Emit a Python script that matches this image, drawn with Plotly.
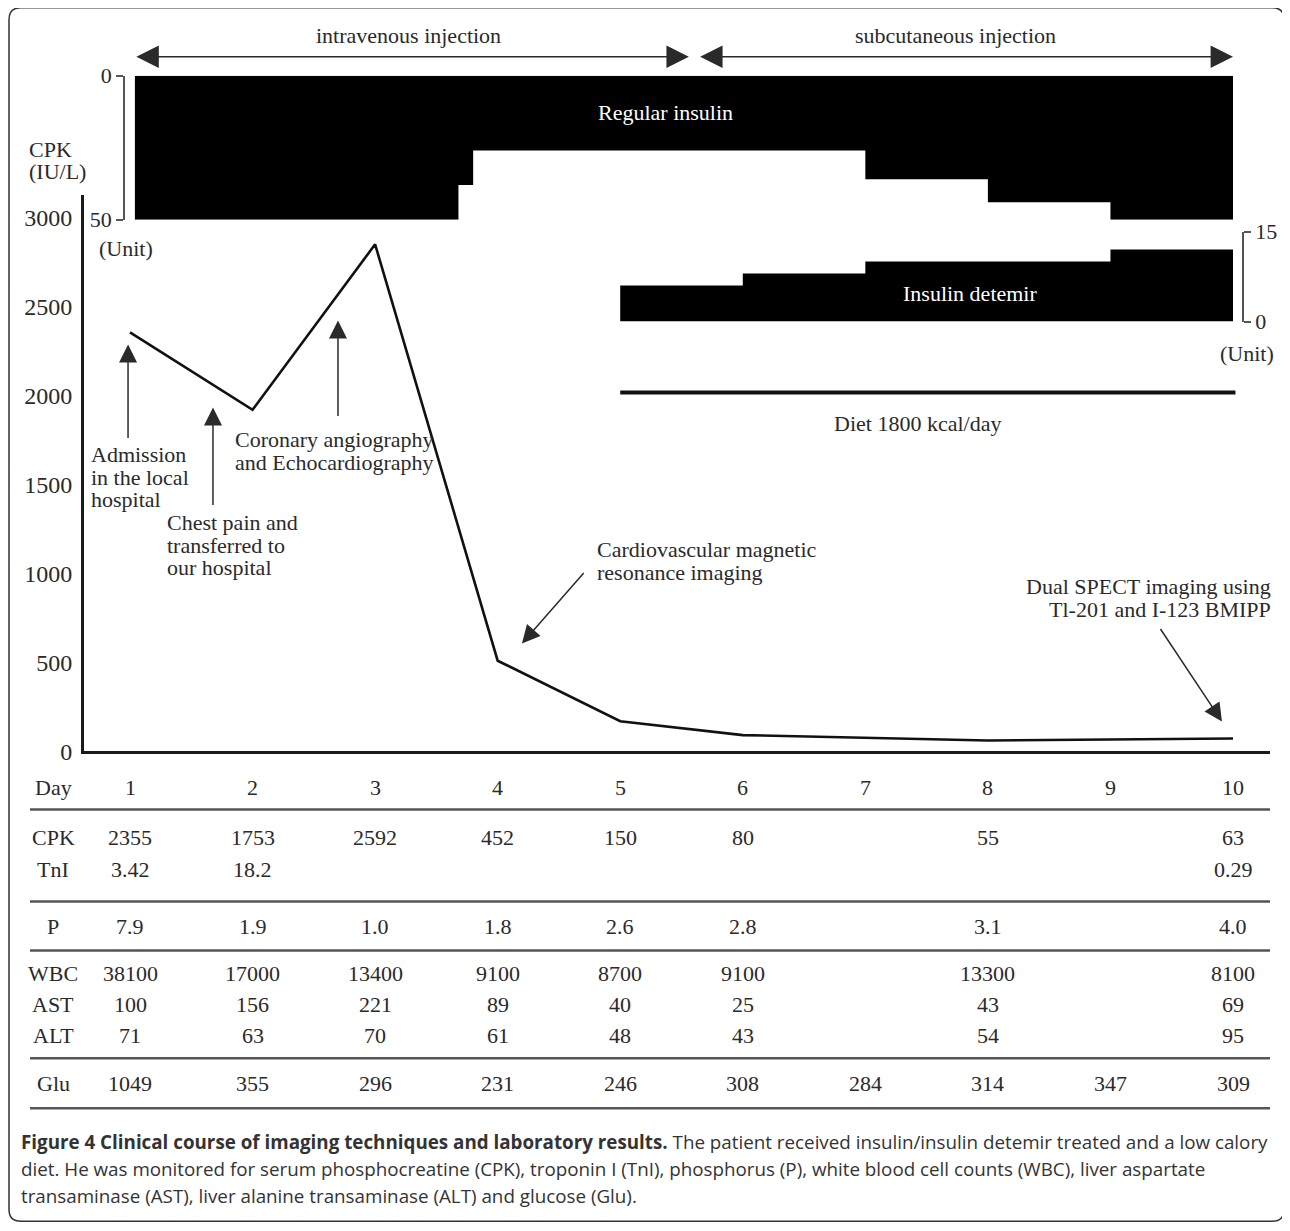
import plotly.graph_objects as go

W, H = 1290, 1231
# mapping from reference pixel positions to paper coordinates
def px(x): return (x - 8) / W
def py(y): return 1 - ((y - 20.3) / 0.98) / H

SERIF = "Liberation Serif"
SANS = "Open Sans"
TXT = "#2a2a2a"

# ---------------- data ----------------
days = [1, 2, 3, 4, 5, 6, 7, 8, 9, 10]
cpk_days = [1, 2, 3, 4, 5, 6, 8, 10]
cpk_plot = [2355, 1920, 2850, 510, 170, 92, 62, 73]

reg_start = [1.04, 3.68, 3.80, 7.0, 8.0, 9.0]
reg_dose = [50, 38, 26, 36, 44, 50]
reg_end = 10.0

det_start = [5.0, 6.0, 7.0, 9.0]
det_dose = [6, 8, 10, 12]
det_end = 10.0

diet_start, diet_end = 5.0, 10.02
iv_phase = (1.04, 5.56)
sc_phase = (5.64, 10.0)

row_labels = ["Day", "CPK", "TnI", "P", "WBC", "AST", "ALT", "Glu"]
cpk_tab = ["2355", "1753", "2592", "452", "150", "80", "", "55", "", "63"]
tni_tab = ["3.42", "18.2", "", "", "", "", "", "", "", "0.29"]
p_tab = ["7.9", "1.9", "1.0", "1.8", "2.6", "2.8", "", "3.1", "", "4.0"]
wbc_tab = ["38100", "17000", "13400", "9100", "8700", "9100", "", "13300", "", "8100"]
ast_tab = ["100", "156", "221", "89", "40", "25", "", "43", "", "69"]
alt_tab = ["71", "63", "70", "61", "48", "43", "", "54", "", "95"]
glu_tab = ["1049", "355", "296", "231", "246", "308", "284", "314", "347", "309"]
cpk_ticks = [0, 500, 1000, 1500, 2000, 2500, 3000]

# ---------------- figure ----------------
fig = go.Figure()

fig.add_trace(go.Scatter(
    x=reg_start + [reg_end], y=reg_dose + [reg_dose[-1]],
    mode="lines", line=dict(shape="hv", width=0, color="black"),
    fill="tozeroy", fillcolor="black", xaxis="x", yaxis="y2",
    hoverinfo="skip", showlegend=False))

fig.add_trace(go.Scatter(
    x=det_start + [det_end], y=det_dose + [det_dose[-1]],
    mode="lines", line=dict(shape="hv", width=0, color="black"),
    fill="tozeroy", fillcolor="black", xaxis="x", yaxis="y3",
    hoverinfo="skip", showlegend=False))

fig.add_trace(go.Scatter(
    x=cpk_days, y=cpk_plot, mode="lines",
    line=dict(color="#111", width=2.6), xaxis="x", yaxis="y",
    showlegend=False))

ann = []
def text(x, y, s, size=22, color=TXT, xanchor="left", font=SERIF, xref="paper"):
    ann.append(dict(x=x if xref != "paper" else px(x), y=py(y), xref=xref, yref="paper",
                    text=s, showarrow=False, xanchor=xanchor, yanchor="middle",
                    font=dict(family=font, size=size, color=color)))

def cpk_at(ypix):
    return (752 - ypix) / 0.178

def arrow(hx, hy, tx, ty):
    ann.append(dict(x=hx, y=cpk_at(hy), xref="x", yref="y", ax=tx, ay=cpk_at(ty), axref="x", ayref="y",
                    text="", showarrow=True, arrowhead=2, arrowsize=2.4, arrowwidth=1.5,
                    arrowcolor="#2a2a2a", standoff=0))

# phase arrows
for (a, b) in [iv_phase, sc_phase]:
    ann.append(dict(x=b, y=py(57), xref="x", yref="paper", ax=a, ay=0, axref="x", ayref="pixel",
                    text="", showarrow=True, arrowhead=2, arrowside="end+start",
                    arrowsize=3.2, arrowwidth=1.4, arrowcolor="#2a2a2a", standoff=0, startstandoff=0))
text(408, 36, "intravenous injection", xanchor="center")
text(955, 36, "subcutaneous injection", xanchor="center")

text(666, 113, "Regular insulin", color="white", xanchor="center")
text(970, 294, "Insulin detemir", color="white", xanchor="center")
text(917, 424, "Diet 1800 kcal/day", xanchor="center")

text(27, 150, "CPK")
text(27, 172, "(IU/L)")
text(126, 249, "(Unit)", xanchor="center")
text(1247, 354, "(Unit)", xanchor="center")

# event arrows (head day, head px, tail day, tail px)
arrow(0.984, 345, 0.984, 440)
arrow(1.677, 408, 1.677, 507)
arrow(2.697, 321, 2.697, 418)
arrow(4.198, 644, 4.713, 572)
arrow(9.91, 722, 9.40, 628)

for i, s in enumerate(["Admission", "in the local", "hospital"]):
    text(89, 455 + 22.5 * i, s)
for i, s in enumerate(["Chest pain and", "transferred to", "our hospital"]):
    text(165, 523 + 22.5 * i, s)
for i, s in enumerate(["Coronary angiography", "and Echocardiography"]):
    text(233, 440 + 22.5 * i, s)
for i, s in enumerate(["Cardiovascular magnetic", "resonance imaging"]):
    text(595, 550 + 22.5 * i, s)
for i, s in enumerate(["Dual SPECT imaging using", "Tl-201 and I-123 BMIPP"]):
    text(1273, 587 + 23 * i, s, xanchor="right")

# table
row_y = [788, 838, 870, 927, 974, 1005, 1036, 1084]
rows = [[str(d) for d in days], cpk_tab, tni_tab, p_tab, wbc_tab, ast_tab, alt_tab, glu_tab]
for lab, yy, vals in zip(row_labels, row_y, rows):
    text(53, yy, lab, xanchor="center")
    for d, v in zip(days, vals):
        if v:
            text(d, yy, v, xanchor="center", xref="x")

# caption
cap = [
    "<b>Figure 4 Clinical course of imaging techniques and laboratory results.</b> The patient received insulin/insulin detemir treated and a low calory",
    "diet. He was monitored for serum phosphocreatine (CPK), troponin I (TnI), phosphorus (P), white blood cell counts (WBC), liver aspartate",
    "transaminase (AST), liver alanine transaminase (ALT) and glucose (Glu).",
]
for i, s in enumerate(cap):
    text(19, 1143 + 27 * i, s, size=18.8, font=SANS, color="#333")

shapes = []
# table rules
for yy in [810, 902, 951, 1059, 1109]:
    shapes.append(dict(type="line", xref="paper", yref="paper", x0=px(30), x1=px(1270),
                       y0=py(yy), y1=py(yy), line=dict(color="#555", width=2.5)))
# diet line
shapes.append(dict(type="line", xref="x", yref="paper", x0=diet_start, x1=diet_end,
                   y0=py(393), y1=py(393), line=dict(color="#111", width=4)))
# rounded frame
x0, x1, y0, y1 = px(9), px(1284), py(8), py(1222)
rx, ry = 12 / W, 12 / H
path = (f"M{x0+rx},{y0} L{x1-rx},{y0} Q{x1},{y0} {x1},{y0-ry} L{x1},{y1+ry} "
        f"Q{x1},{y1} {x1-rx},{y1} L{x0+rx},{y1} Q{x0},{y1} {x0},{y1+ry} "
        f"L{x0},{y0-ry} Q{x0},{y0} {x0+rx},{y0} Z")
shapes.append(dict(type="path", xref="paper", yref="paper", path=path,
                   line=dict(color="#333", width=1.5)))

pxday = (1233 - 130) / 9.0
xr0 = 1 - (130 - 84) / pxday
xr1 = 10 + (1270 - 1233) / pxday

fig.update_layout(
    width=W, height=H, margin=dict(l=0, r=0, t=0, b=0),
    paper_bgcolor="white", plot_bgcolor="rgba(0,0,0,0)",
    showlegend=False,
    font=dict(family=SERIF, size=22, color=TXT),
    xaxis=dict(domain=[px(84), px(1270)], range=[xr0, xr1], anchor="y",
               showline=True, linewidth=3, linecolor="#1a1a1a",
               showticklabels=False, ticks="", showgrid=False, zeroline=False),
    yaxis=dict(domain=[py(752), py(195)], range=[0, (752 - 195) / 0.178], anchor="x",
               showline=True, linewidth=3, linecolor="#1a1a1a",
               tickvals=cpk_ticks, ticks="", ticklabelstandoff=4,
               tickfont=dict(family=SERIF, size=24, color=TXT),
               showgrid=False, zeroline=False),
    yaxis2=dict(domain=[py(220), py(76)], range=[50, 0], anchor="free", position=px(124),
                side="left", showline=True, linewidth=1.5, linecolor="#555",
                tickvals=[0, 50], ticks="outside", ticklen=7, tickwidth=1.5, tickcolor="#555",
                ticklabelstandoff=0,
                tickfont=dict(family=SERIF, size=22, color=TXT),
                showgrid=False, zeroline=False),
    yaxis3=dict(domain=[py(322), py(232)], range=[0, 15], anchor="free", position=px(1243),
                side="right", showline=True, linewidth=1.5, linecolor="#555",
                tickvals=[0, 15], ticks="outside", ticklen=7, tickwidth=1.5, tickcolor="#555",
                ticklabelstandoff=0,
                tickfont=dict(family=SERIF, size=22, color=TXT),
                showgrid=False, zeroline=False),
    annotations=ann, shapes=shapes,
)

fig.write_html("out.html")
